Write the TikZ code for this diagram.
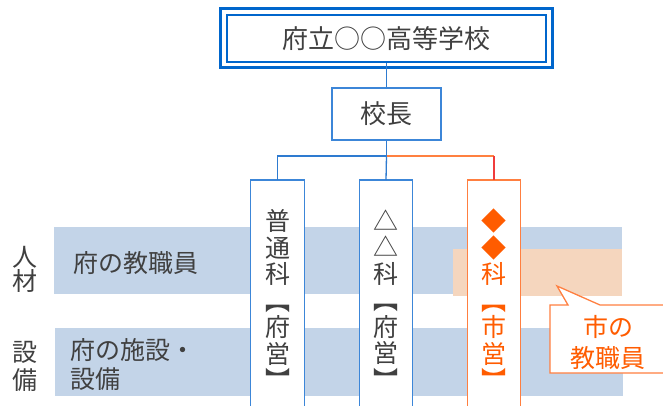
\documentclass[tikz,border=0pt]{standalone}
\usepackage{fontspec}
\setmainfont{Noto Sans CJK JP}
\definecolor{txt}{HTML}{404040}
\definecolor{navy}{HTML}{0066CC}
\definecolor{bline}{HTML}{2E7BD0}
\definecolor{bbox}{HTML}{3C86D8}
\definecolor{bandb}{HTML}{C3D4E8}
\definecolor{bando}{HTML}{F5D6BE}
\definecolor{otext}{HTML}{FF5C00}
\definecolor{obox}{HTML}{FF7F40}
\definecolor{oline}{HTML}{FF8040}
\definecolor{rline}{HTML}{F03C3C}
\begin{document}
\begin{tikzpicture}[x=1pt,y=-1pt,
  every node/.style={font=\fontsize{25}{26.5}\selectfont, text=txt, inner sep=0pt},
  band/.style={fill=#1, minimum width=568pt, anchor=north west},
  colbox/.style={fill=white, minimum width=53pt, minimum height=226pt, anchor=north},
  vtext/.style={align=center, font=\fontsize{25}{26.5}\selectfont},
  conn/.style={draw=bline, line width=1.3pt},
]
\useasboundingbox (0,0) rectangle (663,406);

% bands
\node[band=bandb, minimum height=67pt] (band1) at (54,227) {};
\node[band=bandb, minimum height=68pt] (band2) at (55,328) {};
\node[fill=bando, minimum width=169pt, minimum height=47pt, anchor=north west] (oband) at (453,249) {};

% left labels
\node (jin) at (25,257) {人};
\node (zai) at (25,281) {材};
\node (setsu) at (25,352) {設};
\node (bi) at (25,380) {備};
\node[anchor=west] (staff) at (73,263) {府の教職員};
\node[anchor=west, align=left, font=\fontsize{25}{29}\selectfont] (facil) at (70,364) {府の施設・\\設備};

% top boxes
\node[draw=navy, line width=1.8pt, minimum width=319pt, minimum height=47pt, font=\fontsize{26}{28}\selectfont] (top) at (386.5,38.5) {府立○○高等学校};
\draw[navy, line width=3pt] ([shift={(-5.5,-6)}]top.north west) rectangle ([shift={(5.5,5)}]top.south east);
\node[draw=bbox, line width=1.3pt, minimum width=109pt, minimum height=52pt, fill=white, font=\fontsize{26}{28}\selectfont] (chief) at (386.5,114) {校長};

% column boxes
\node[colbox] (b1) at (277.5,180) {};
\node[colbox] (b2) at (386,180) {};
\node[colbox] (b3) at (494,180) {};
\draw[draw=bbox, line width=1.3pt] (b1.south west) -- (b1.north west) -- (b1.north east) -- (b1.south east);
\draw[draw=bbox, line width=1.3pt] (b2.south west) -- (b2.north west) -- (b2.north east) -- (b2.south east);
\draw[draw=obox, line width=1.3pt] (b3.south west) -- (b3.north west) -- (b3.north east) -- (b3.south east);

\node[vtext] (t1) at (277.5,299.5) {普\\通\\科\\︻\\府\\営\\︼};
\node[vtext] (t2) at (386,299.5) {△\\△\\科\\︻\\府\\営\\︼};
\node[vtext, text=otext] (t3) at (494,299.5) {◆\\◆\\科\\︻\\市\\営\\︼};

% connectors
\coordinate (j) at (386.5,156);
\coordinate (jr) at (494,156);
\draw[conn] (top) -- (chief);
\draw[conn] (chief.south) -- (j) -| (b1.north);
\draw[conn] (j) -- (b2.north);
\draw[draw=oline, line width=1.3pt] (j) -- (jr);
\draw[draw=rline, line width=1.3pt] (jr) -- (b3.north);

% callout
\coordinate (tip) at (557,286);
\draw[draw=obox, line width=1.3pt, fill=white] (666,305) -- (600,305) -- (tip) -- (568,305) -- (550,305) -- (550,373) -- (666,373);
\node[align=center, text=otext, font=\fontsize{25}{31}\selectfont] (cl) at (608,342) {市の\\教職員};
\end{tikzpicture}
\end{document}
